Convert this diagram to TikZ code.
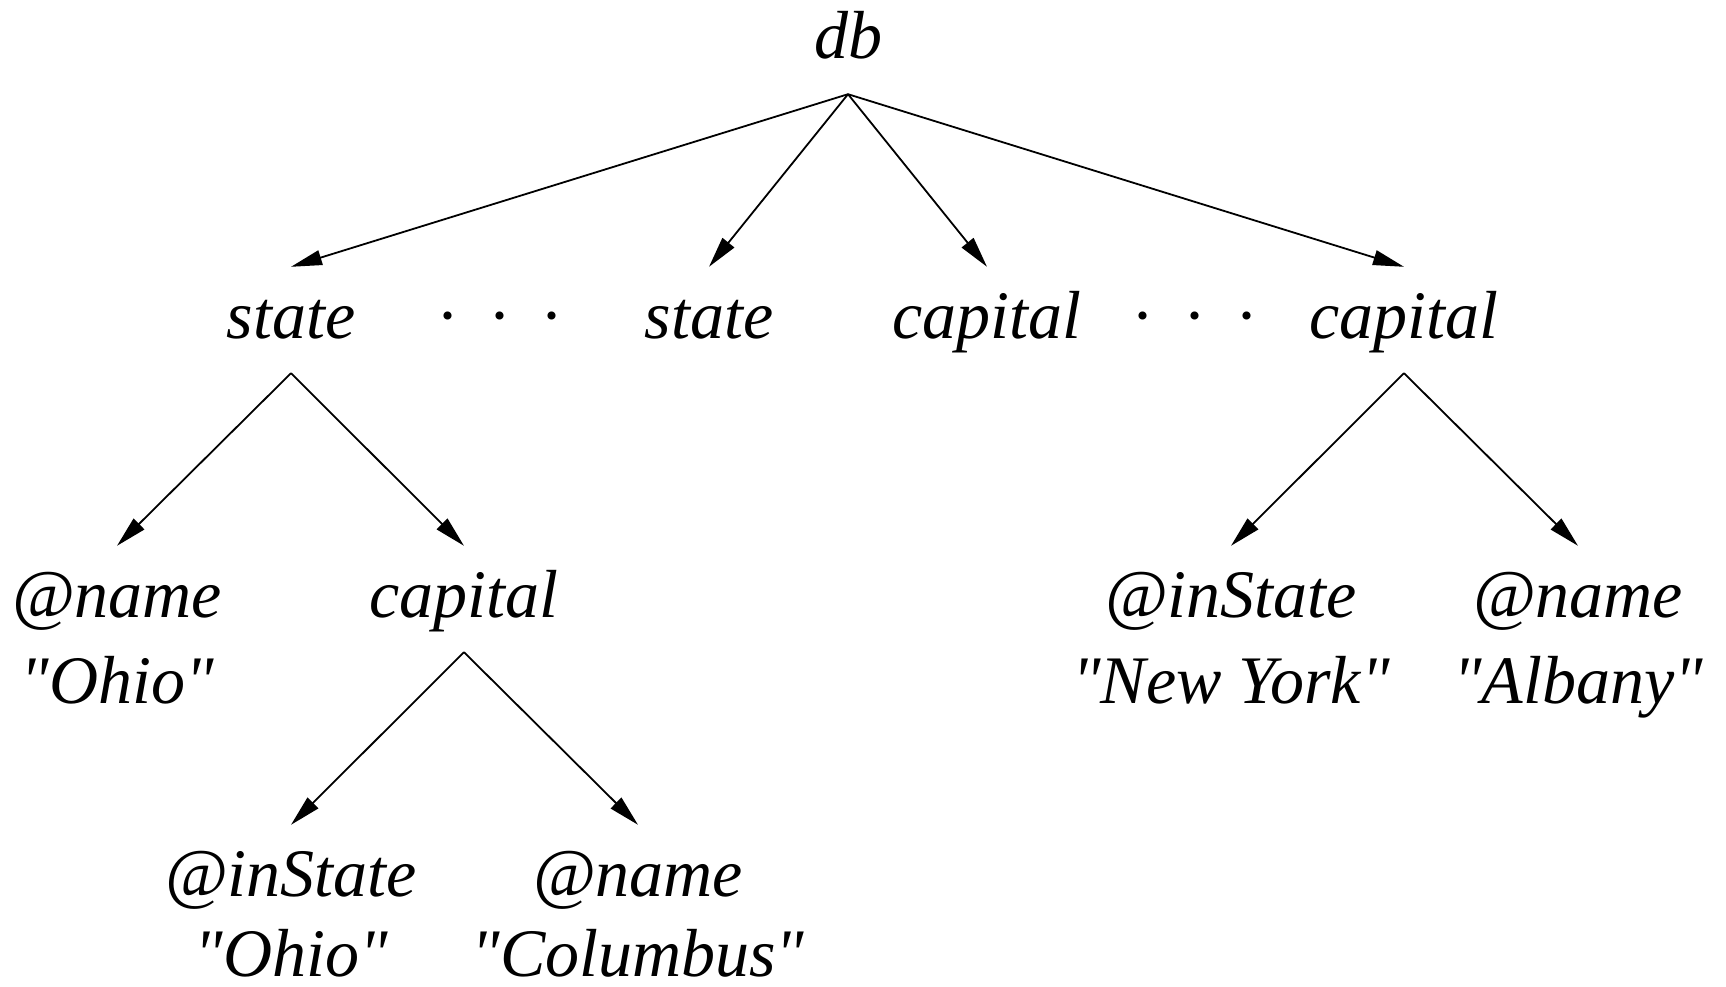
\documentclass[tikz,border=0pt]{standalone}
\usepackage{fontspec}
\setmainfont{Liberation Serif}[Ligatures=TeXOff]
\usetikzlibrary{arrows.meta}
\begin{document}
\begin{tikzpicture}[x=1pt,y=-1pt,
  lbl/.style={font=\fontsize{68}{82}\selectfont\itshape, inner sep=0pt, text height=71pt, text depth=35pt, anchor=base},
  val/.style={font=\fontsize{68}{82}\selectfont\itshape, inner sep=0pt, text depth=0pt, anchor=base},
  edge/.style={-{Triangle[length=31pt,width=15pt]}, line width=1.8pt}]
\useasboundingbox (0,0) rectangle (1726,987);
\node[lbl] (db) at (848,59) {db};
\node[lbl] (s1) at (291,338) {state};
\node[lbl] (s2) at (709,338) {state};
\node[lbl] (c1) at (987,338) {capital};
\node[lbl] (c2) at (1404,338) {capital};
\node[val] (d1) at (499,338) {\makebox[52pt]{·}\makebox[52pt]{·}\makebox[52pt]{·}};
\node[val] (d2) at (1194,338) {\makebox[52pt]{·}\makebox[52pt]{·}\makebox[52pt]{·}};
\node[lbl] (n1) at (117,617) {@name};
\node[val] (n1v) at (117,703) {"Ohio"};
\node[lbl] (c3) at (464,617) {capital};
\node[lbl] (i2) at (1231,617) {@inState};
\node[val] (i2v) at (1231,703) {"New York"};
\node[lbl] (n2) at (1578,617) {@name};
\node[val] (n2v) at (1578,703) {"Albany"};
\node[lbl] (i3) at (291,896) {@inState};
\node[val] (i3v) at (291,976) {"Ohio"};
\node[lbl] (n3) at (638,896) {@name};
\node[val] (n3v) at (638,976) {"Columbus"};
\draw[edge] (db.south) -- (s1.north);
\draw[edge] (db.south) -- (s2.north);
\draw[edge] (db.south) -- (c1.north);
\draw[edge] (db.south) -- (c2.north);
\draw[edge] (s1.south) -- (n1.north);
\draw[edge] (s1.south) -- (c3.north);
\draw[edge] (c3.south) -- (i3.north);
\draw[edge] (c3.south) -- (n3.north);
\draw[edge] (c2.south) -- (i2.north);
\draw[edge] (c2.south) -- (n2.north);
\end{tikzpicture}
\end{document}
